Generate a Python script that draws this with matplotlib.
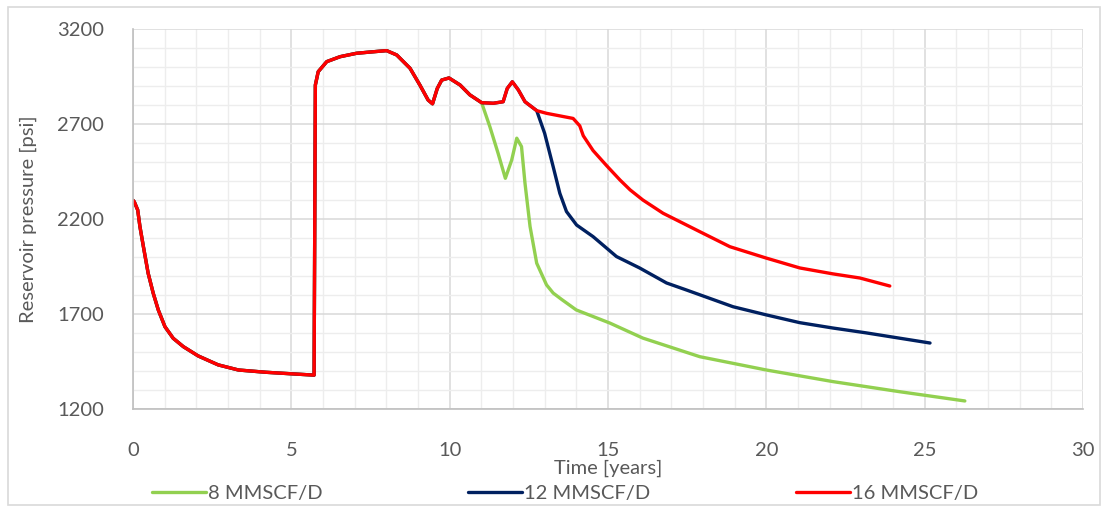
import matplotlib.pyplot as plt
from matplotlib.patches import Rectangle
from matplotlib.ticker import MultipleLocator

# shared history (all three rates identical until the rates split)
t_common = [0.0, 0.04, 0.15, 0.22, 0.33, 0.48, 0.64, 0.80, 1.01, 1.27, 1.59, 2.06, 2.69,
            3.33, 4.2, 5.0, 5.72, 5.76, 5.85, 6.12, 6.54, 7.06, 7.59, 8.01, 8.33, 8.75,
            9.06, 9.32, 9.46, 9.61, 9.75, 9.98, 10.33, 10.64, 11.01]
p_common = [2298, 2291, 2247, 2160, 2054, 1914, 1809, 1721, 1633, 1572, 1528, 1479, 1432,
            1405, 1393, 1385, 1378, 2905, 2975, 3028, 3054, 3072, 3080, 3086, 3063, 2993,
            2905, 2826, 2806, 2887, 2931, 2942, 2905, 2853, 2812]

# 8 MMSCF/D tail
t_8 = [11.27, 11.53, 11.76, 11.96, 12.12, 12.27, 12.38, 12.54, 12.75, 13.06, 13.27, 13.54,
       14.0, 15.06, 16.1, 17.9, 20.0, 22.1, 24.2, 26.27]
p_8 = [2686, 2546, 2414, 2510, 2625, 2581, 2388, 2160, 1967, 1853, 1810, 1776,
       1721, 1652, 1573, 1475, 1405, 1344, 1291, 1242]

# 12 and 16 MMSCF/D keep going together a bit longer
t_12_16 = [11.38, 11.69, 11.82, 11.98, 12.17, 12.38, 12.75]
p_12_16 = [2809, 2817, 2887, 2922, 2879, 2817, 2770]

t_12 = [13.0, 13.27, 13.48, 13.69, 14.01, 14.53, 15.27, 16.0, 16.85, 17.48, 18.95,
        20.0, 21.06, 22.1, 23.17, 25.17]
p_12 = [2651, 2475, 2335, 2239, 2168, 2107, 2002, 1942, 1863, 1826, 1738,
        1695, 1654, 1626, 1600, 1547]

t_16 = [13.06, 13.9, 14.11, 14.22, 14.53, 14.96, 15.38, 15.7, 16.1, 16.74, 17.9, 18.85,
        20.0, 21.06, 22.1, 22.96, 23.9]
p_16 = [2756, 2729, 2690, 2638, 2560, 2480, 2405, 2353, 2300, 2230, 2133, 2054,
        1994, 1942, 1911, 1889, 1847]

labels = ["8 MMSCF/D", "12 MMSCF/D", "16 MMSCF/D"]
colors = ["#92D050", "#002060", "#FF0000"]

series = [
    (t_common + t_8, p_common + p_8),
    (t_common + t_12_16 + t_12, p_common + p_12_16 + p_12),
    (t_common + t_12_16 + t_16, p_common + p_12_16 + p_16),
]

plt.rcParams['font.family'] = ['Lato', 'DejaVu Sans']
txt = "#595959"

fig = plt.figure(figsize=(11.08, 5.08), dpi=100)
ax = fig.add_axes([0.12, 0.195, 0.8574, 0.748])

for (t, p), lab, c in zip(series, labels, colors):
    ax.plot(t, p, color=c, lw=2.4, label=lab, solid_capstyle='round',
            solid_joinstyle='round')

ax.set_xlim(0, 30)
ax.set_ylim(1200, 3200)
ax.xaxis.set_major_locator(MultipleLocator(5))
ax.xaxis.set_minor_locator(MultipleLocator(1))
ax.set_yticks(range(1200, 3201, 500))
ax.set_yticks(range(1200, 3201, 100), minor=True)
ax.grid(which='major', color='#D9D9D9', lw=1.1)
ax.grid(which='minor', color='#EDEDED', lw=1.0)
ax.set_axisbelow(True)
ax.tick_params(which='both', length=0, labelsize=14.5, labelcolor=txt)
ax.tick_params(axis='x', pad=24)
ax.tick_params(axis='y', pad=21)

for s in ['top', 'right']:
    ax.spines[s].set_visible(False)
for s in ['left', 'bottom']:
    ax.spines[s].set_color('#BFBFBF')
    ax.spines[s].set_linewidth(1.2)

ax.set_xlabel("Time [years]", fontsize=14.5, color=txt, labelpad=0)
ax.set_ylabel("Reservoir pressure [psi]", fontsize=14.5, color=txt, labelpad=14)

fig.legend(loc='center', bbox_to_anchor=(0.51, 0.028), ncol=3, frameon=False,
           fontsize=14.5, labelcolor=txt, handlelength=2.7, handletextpad=0.1,
           columnspacing=7.2)

fig.patches.append(Rectangle((0.007, 0.005), 0.986, 0.982, transform=fig.transFigure,
                             fill=False, edgecolor='#D9D9D9', lw=1.2))

fig.savefig("out.png", dpi=100)
